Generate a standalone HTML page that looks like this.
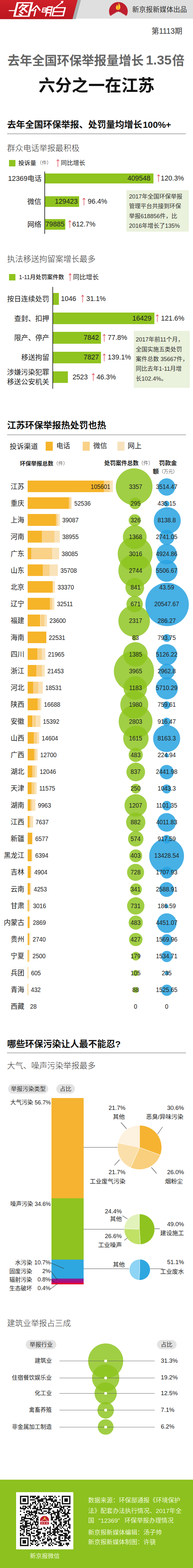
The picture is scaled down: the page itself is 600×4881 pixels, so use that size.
<!DOCTYPE html>
<html lang="zh"><head><meta charset="utf-8"><title>图个明白</title><style>
*{margin:0;padding:0;box-sizing:border-box}
html,body{width:600px;height:4881px;background:#fff;overflow-x:hidden}
body{font-family:"Liberation Sans",sans-serif;color:#222;position:relative}
#pg{position:relative;width:600px;height:4881px;overflow:hidden;background:#fff}
.a{position:absolute;white-space:nowrap;line-height:1}
.h2{position:absolute;left:22px;font-size:28px;font-weight:bold;color:#111;white-space:nowrap;line-height:1;letter-spacing:-0.3px}
.hr{position:absolute;left:22px;width:556px;height:3px;background:#bdbdbd}
.sub{position:absolute;left:22px;font-size:25px;font-weight:300;color:#444;white-space:nowrap;line-height:1}
.bar{position:absolute;background:#8fc31f}
.lbl{position:absolute;font-size:21.4px;color:#333;white-space:nowrap;line-height:1;text-align:right;font-weight:300}
.num{position:absolute;font-size:21.3px;color:#222;white-space:nowrap;line-height:1;transform:scaleY(1.06)}
.arr{color:#e0424a}
.note{position:absolute;background:#eaf1dc;font-size:18px;line-height:30.3px;color:#333;padding:6px 0 0 8px;white-space:nowrap}
.pv{position:absolute;font-size:21px;color:#333;white-space:nowrap;line-height:1;font-weight:300;text-align:right;width:70px;left:6px}
.bv{position:absolute;transform:scaleY(1.12);font-size:18.3px;color:#222;white-space:nowrap;line-height:1}
.cv{position:absolute;transform:scaleY(1.12);font-size:18.5px;color:#222;white-space:nowrap;line-height:1;text-align:center;width:120px}
.g{position:absolute;border-radius:50%;background:rgba(141,196,30,.83)}
.b{position:absolute;border-radius:50%;background:rgba(41,163,225,.86)}
.pill{position:absolute;background:#e3e3e3;border-radius:15px;font-size:18px;color:#333;text-align:center;white-space:nowrap;font-weight:300}
.pl{position:absolute;font-size:18.5px;color:#222;white-space:nowrap;line-height:1}
.ln{position:absolute;height:1px;background:#555}
.ft{position:absolute;left:274px;font-size:19.1px;color:#eef7d8;white-space:nowrap;line-height:1}

.t{position:absolute;overflow:visible;width:1px;height:1px}
.t text{font-family:"Liberation Sans","Noto Sans CJK SC",sans-serif;white-space:pre}
</style></head><body><div id="pg">
<svg class="a" style="left:0;top:0" width="600" height="60" viewBox="0 0 600 60">
<rect x="0" y="0" width="600" height="58" fill="#dfdfdf"/>
<polygon points="0,0 251.500,0 235.400,59.500 0,59.500" fill="#a9afaf"/>
<defs><linearGradient id="rg" x1="0" y1="0" x2="0" y2="1"><stop offset="0" stop-color="#cf2029"/><stop offset="1" stop-color="#bb161f"/></linearGradient>
<clipPath id="dome"><rect x="330" y="0" width="80" height="52"/></clipPath></defs>
<polygon points="0,0 241.200,0 225.300,59.500 0,59.500" fill="url(#rg)"/>
<path d="M343.400 50.500 A29 29 0 1 1 392.600 50.500 V47.900 H388.300 V45.300 H384.000 V42.700 H379.600 V40.100 H375.300 V37.500 H371.000 L368.000 35.500 L365.000 37.500 H360.700 V40.100 H356.400 V42.700 H352.000 V45.300 H347.700 V47.900 H343.400 V50.500 Z" fill="#be1e2d"/>
<path d="M367.500 7.500 C372.500 14 375.500 19.500 373.500 26 C372 31.500 363.500 32.500 361 27.500 C358.500 22.500 362.500 19 363.500 13.500 C365.500 16.500 366.500 18.500 366.500 21.500 C368.500 17.500 369 12.500 367.500 7.500 Z" fill="#fcc82c"/>
<path d="M367.500 20 C369.500 23 370 25.500 369 28 C368 30 365.500 30 364.800 28 C364.200 26 366 24.500 367.500 20 Z" fill="#f39a1e"/>
<g fill="none" stroke="#fff" stroke-linecap="butt" stroke-linejoin="miter" transform="matrix(1 0 -0.25 1 7.500 0)">
<path d="M49.500 7 V52 M94 7 V52" stroke-width="6.400"/><path d="M47 8.700 H97 M47 50.300 H97" stroke-width="3.800"/>
<path d="M28 33 H50 M95 33 H108" stroke-width="3"/>
<path d="M68 12 L58 27 M63 17.500 H83 L62 37 M67 23.500 L87 38.500 M66 37.500 L75 42 M62 43.500 L73 48.500" stroke-width="4.600"/>
<path d="M111.500 17 L98 34 M110.500 17 L126 33 M111 28 V51" stroke-width="4.200"/>
<g transform="translate(0.5,0)"><path d="M132 25 H142.500 V37.500 H132 Z M132 31 H142" stroke-width="3"/>
<path d="M146.500 51 V21.500 H160 V51 M146 30.500 H160 M146 39.500 H160" stroke-width="3.800"/>
<path d="M166.500 23 V50.500 M200.500 23 V50.500" stroke-width="4.600"/><path d="M165 24 H202 M165 49 H202 M166 36.500 H201" stroke-width="3.400"/>
<path d="M171 23 L186 8" stroke-width="3.400"/></g>
</g>
<path d="M197.500 2.500 L194.700 11.500 L188.300 3.800 Z" fill="#fff"/>
</svg>
<svg class="t" style="left:411.0px;top:37.0px;fill:#333"><text font-size="21.3">新京报新媒体出品</text></svg>
<svg class="t" style="left:470.5px;top:104.9px;fill:#333"><text font-size="23.5">第1113期</text></svg>
<svg class="t" style="left:22.5px;top:201.6px;fill:#666"><text font-size="38.5" font-weight="bold">去年全国环保举报量增长</text></svg>
<div class="a" style="left:453.5px;top:166.9px;font-size:41px;font-weight:bold;color:#666">1.35</div>
<svg class="t" style="left:535.3px;top:201.6px;fill:#666"><text font-size="38.5" font-weight="bold">倍</text></svg>
<svg class="t" style="left:119.8px;top:284.1px;fill:#111"><text font-size="51.5" font-weight="bold">六分之一在江苏</text></svg>
<svg class="t" style="left:22.0px;top:397.7px;fill:#111"><text font-size="28" font-weight="bold">去年全国环保举报、处罚量均增长</text></svg>
<svg class="t" style="left:443.5px;top:397.7px;fill:#111"><text font-size="28" font-weight="bold">100%+</text></svg>
<div class="hr" style="top:414.500px"></div>
<svg class="t" style="left:22.0px;top:470.2px;fill:#333"><text font-size="25" font-weight="300">群众电话举报最积极</text></svg>
<div class="bar" style="left:28px;top:498px;width:20px;height:20px"></div>
<svg class="t" style="left:57.0px;top:514.2px;fill:#333"><text font-size="18.5" font-weight="500">投诉量</text></svg>
<svg class="t" style="left:114.5px;top:512.2px;fill:#222"><text font-size="15" font-weight="300">（件）</text></svg>
<svg class="a" style="left:175px;top:496px" width="10" height="24" viewBox="0 0 10 24" fill="none" stroke="#dc3545" stroke-width="1.4"><path d="M5 23.500 V1 M1 5.500 L5 0.800 L9 5.500"/></svg>
<svg class="t" style="left:189.0px;top:514.1px;fill:#222"><text font-size="19">同比增长</text></svg>
<div class="a" style="left:138px;top:534px;width:2px;height:194px;background:#222"></div>
<svg class="t" style="left:24.9px;top:562.7px;fill:#222"><text font-size="21.8">12369电话</text></svg>
<div class="bar" style="left:140px;top:539.5px;width:337px;height:31.5px"></div>
<div class="num" style="left:0;width:467.5px;text-align:right;top:544.8px">409548</div>
<svg class="a" style="left:487.5px;top:543.25px" width="10" height="24" viewBox="0 0 10 24" fill="none" stroke="#dc3545" stroke-width="1.4"><path d="M5 23.500 V1 M1 5.500 L5 0.800 L9 5.500"/></svg>
<div class="num" style="left:499.8px;top:544.8px">120.3%</div>
<svg class="t" style="left:85.4px;top:635.2px;fill:#222"><text font-size="21.8">微信</text></svg>
<div class="bar" style="left:140px;top:611.4px;width:106.30000000000001px;height:32.6px"></div>
<div class="num" style="left:0;width:241.5px;text-align:right;top:617.2px">129423</div>
<svg class="a" style="left:256px;top:615.6999999999999px" width="10" height="24" viewBox="0 0 10 24" fill="none" stroke="#dc3545" stroke-width="1.4"><path d="M5 23.500 V1 M1 5.500 L5 0.800 L9 5.500"/></svg>
<div class="num" style="left:272.8px;top:617.2px">96.4%</div>
<svg class="t" style="left:85.4px;top:705.8px;fill:#222"><text font-size="21.8">网络</text></svg>
<div class="bar" style="left:140px;top:681.6px;width:63px;height:33.4px"></div>
<div class="num" style="left:0;width:200.5px;text-align:right;top:687.8px">79885</div>
<svg class="a" style="left:211.5px;top:686.3000000000001px" width="10" height="24" viewBox="0 0 10 24" fill="none" stroke="#dc3545" stroke-width="1.4"><path d="M5 23.500 V1 M1 5.500 L5 0.800 L9 5.500"/></svg>
<div class="num" style="left:224.4px;top:687.8px">612.7%</div>
<div class="note" style="left:392.5px;top:592px;width:194.5px;height:129px"></div>
<svg class="t" style="left:400.5px;top:617.9px;fill:#333"><text font-size="18">2017年全国环保举报</text></svg>
<svg class="t" style="left:400.5px;top:648.2px;fill:#333"><text font-size="18">管理平台共接到环保</text></svg>
<svg class="t" style="left:400.5px;top:678.5px;fill:#333"><text font-size="18">举报618856件，比</text></svg>
<svg class="t" style="left:400.5px;top:708.8px;fill:#333"><text font-size="18">2016年增长了135%</text></svg>
<svg class="t" style="left:22.0px;top:815.2px;fill:#333"><text font-size="25" font-weight="300">执法移送拘留案增长最多</text></svg>
<div class="bar" style="left:28px;top:853px;width:20px;height:20px"></div>
<svg class="t" style="left:59.0px;top:869.0px;fill:#222"><text font-size="17.7" font-weight="500">1-11月处罚案件数</text></svg>
<svg class="a" style="left:213px;top:851px" width="10" height="24" viewBox="0 0 10 24" fill="none" stroke="#dc3545" stroke-width="1.4"><path d="M5 23.500 V1 M1 5.500 L5 0.800 L9 5.500"/></svg>
<svg class="t" style="left:227.0px;top:869.9px;fill:#222"><text font-size="20">同比增长</text></svg>
<div class="a" style="left:163px;top:893px;width:2px;height:317px;background:#222"></div>
<svg class="t" style="left:22.2px;top:937.7px;fill:#222"><text font-size="21.8">按日连续处罚</text></svg>
<div class="bar" style="left:165px;top:911.5px;width:18px;height:37.5px"></div>
<div class="num" style="left:189.5px;top:919.8px">1046</div>
<svg class="a" style="left:251.7px;top:918.25px" width="10" height="24" viewBox="0 0 10 24" fill="none" stroke="#dc3545" stroke-width="1.4"><path d="M5 23.500 V1 M1 5.500 L5 0.800 L9 5.500"/></svg>
<div class="num" style="left:268.3px;top:919.8px">31.1%</div>
<svg class="t" style="left:44.0px;top:998.5px;fill:#222"><text font-size="21.8">查封、扣押</text></svg>
<div class="bar" style="left:165px;top:972.7px;width:314.5px;height:36.6px"></div>
<div class="num" style="left:0;width:470.8px;text-align:right;top:980.5px">16429</div>
<svg class="a" style="left:484px;top:979.0px" width="10" height="24" viewBox="0 0 10 24" fill="none" stroke="#dc3545" stroke-width="1.4"><path d="M5 23.500 V1 M1 5.500 L5 0.800 L9 5.500"/></svg>
<div class="num" style="left:500.6px;top:980.5px">121.6%</div>
<svg class="t" style="left:44.0px;top:1059.4px;fill:#222"><text font-size="21.8">限产、停产</text></svg>
<div class="bar" style="left:165px;top:1033.3px;width:148.5px;height:37.2px"></div>
<div class="num" style="left:0;width:307.5px;text-align:right;top:1041.4px">7842</div>
<svg class="a" style="left:319px;top:1039.8999999999999px" width="10" height="24" viewBox="0 0 10 24" fill="none" stroke="#dc3545" stroke-width="1.4"><path d="M5 23.500 V1 M1 5.500 L5 0.800 L9 5.500"/></svg>
<div class="num" style="left:335px;top:1041.4px">77.8%</div>
<svg class="t" style="left:65.8px;top:1120.2px;fill:#222"><text font-size="21.8">移送拘留</text></svg>
<div class="bar" style="left:165px;top:1094.5px;width:148.5px;height:36.5px"></div>
<div class="num" style="left:0;width:307.5px;text-align:right;top:1102.2px">7827</div>
<svg class="a" style="left:319px;top:1100.75px" width="10" height="24" viewBox="0 0 10 24" fill="none" stroke="#dc3545" stroke-width="1.4"><path d="M5 23.500 V1 M1 5.500 L5 0.800 L9 5.500"/></svg>
<div class="num" style="left:335px;top:1102.2px">139.1%</div>
<svg class="t" style="left:22.2px;top:1166.3px;fill:#222"><text font-size="21.8">涉嫌污染犯罪</text></svg>
<svg class="t" style="left:22.2px;top:1195.8px;fill:#222"><text font-size="21.8">移送公安机关</text></svg>
<div class="bar" style="left:165px;top:1155.7px;width:46.30000000000001px;height:36.6px"></div>
<div class="num" style="left:225.4px;top:1163.5px">2523</div>
<svg class="a" style="left:284.5px;top:1162.0px" width="10" height="24" viewBox="0 0 10 24" fill="none" stroke="#dc3545" stroke-width="1.4"><path d="M5 23.500 V1 M1 5.500 L5 0.800 L9 5.500"/></svg>
<div class="num" style="left:300px;top:1163.5px">46.3%</div>
<div class="note" style="left:416px;top:1030px;width:173.500px;height:177px"></div>
<svg class="t" style="left:422.0px;top:1063.4px;fill:#333"><text font-size="18">2017年前11个月，</text></svg>
<svg class="t" style="left:422.0px;top:1093.7px;fill:#333"><text font-size="18">全国实施五类处罚</text></svg>
<svg class="t" style="left:422.0px;top:1124.0px;fill:#333"><text font-size="18">案件总数 35667件，</text></svg>
<svg class="t" style="left:422.0px;top:1154.3px;fill:#333"><text font-size="18">同比去年1-11月增</text></svg>
<svg class="t" style="left:422.0px;top:1184.6px;fill:#333"><text font-size="18">长102.4%。</text></svg>
<svg class="t" style="left:22.0px;top:1333.7px;fill:#111"><text font-size="28" font-weight="bold">江苏环保举报热处罚也热</text></svg>
<div class="hr" style="top:1352px"></div>
<svg class="t" style="left:30.0px;top:1396.6px;fill:#222"><text font-size="22">投诉渠道</text></svg>
<div class="a" style="left:142px;top:1375px;width:22px;height:28px;background:#f6b429"></div>
<svg class="t" style="left:174.5px;top:1395.2px;fill:#222"><text font-size="21.5">电话</text></svg>
<div class="a" style="left:257px;top:1375px;width:22px;height:28px;background:#f9d187"></div>
<svg class="t" style="left:289.5px;top:1395.2px;fill:#222"><text font-size="21.5">微信</text></svg>
<div class="a" style="left:364.5px;top:1375px;width:22px;height:28px;background:#f7e2bd"></div>
<svg class="t" style="left:397.0px;top:1395.2px;fill:#222"><text font-size="21.5">网上</text></svg>
<svg class="t" style="left:62.0px;top:1448.6px;fill:#222"><text font-size="17.3" font-weight="bold">环保举报总数</text></svg>
<svg class="t" style="left:165.8px;top:1447.7px;fill:#222"><text font-size="15" font-weight="300">（件）</text></svg>
<svg class="t" style="left:323.5px;top:1448.1px;fill:#222"><text font-size="17.8" font-weight="bold">处罚案件总数</text></svg>
<svg class="t" style="left:430.3px;top:1447.1px;fill:#222"><text font-size="15.5" font-weight="300">（件）</text></svg>
<svg class="t" style="left:494.0px;top:1447.8px;fill:#222"><text font-size="18.7" font-weight="bold">罚款金</text></svg>
<svg class="t" style="left:475.0px;top:1473.8px;fill:#222"><text font-size="18.7" font-weight="bold">额</text></svg>
<svg class="t" style="left:493.7px;top:1472.8px;fill:#222"><text font-size="14.5" font-weight="300">（万元）</text></svg>
<svg class="t" style="left:33.4px;top:1521.7px;fill:#222"><text font-size="21.3">江苏</text></svg>
<svg class="t" style="left:33.4px;top:1573.9px;fill:#222"><text font-size="21.3">重庆</text></svg>
<svg class="t" style="left:33.4px;top:1626.1px;fill:#222"><text font-size="21.3">上海</text></svg>
<svg class="t" style="left:33.4px;top:1678.3px;fill:#222"><text font-size="21.3">河南</text></svg>
<svg class="t" style="left:33.4px;top:1730.5px;fill:#222"><text font-size="21.3">广东</text></svg>
<svg class="t" style="left:33.4px;top:1782.7px;fill:#222"><text font-size="21.3">山东</text></svg>
<svg class="t" style="left:33.4px;top:1834.9px;fill:#222"><text font-size="21.3">北京</text></svg>
<svg class="t" style="left:33.4px;top:1887.1px;fill:#222"><text font-size="21.3">辽宁</text></svg>
<svg class="t" style="left:33.4px;top:1939.3px;fill:#222"><text font-size="21.3">福建</text></svg>
<svg class="t" style="left:33.4px;top:1991.5px;fill:#222"><text font-size="21.3">海南</text></svg>
<svg class="t" style="left:33.4px;top:2043.7px;fill:#222"><text font-size="21.3">四川</text></svg>
<svg class="t" style="left:33.4px;top:2095.9px;fill:#222"><text font-size="21.3">浙江</text></svg>
<svg class="t" style="left:33.4px;top:2148.1px;fill:#222"><text font-size="21.3">河北</text></svg>
<svg class="t" style="left:33.4px;top:2200.3px;fill:#222"><text font-size="21.3">陕西</text></svg>
<svg class="t" style="left:33.4px;top:2252.5px;fill:#222"><text font-size="21.3">安徽</text></svg>
<svg class="t" style="left:33.4px;top:2304.7px;fill:#222"><text font-size="21.3">山西</text></svg>
<svg class="t" style="left:33.4px;top:2356.9px;fill:#222"><text font-size="21.3">广西</text></svg>
<svg class="t" style="left:33.4px;top:2409.1px;fill:#222"><text font-size="21.3">湖北</text></svg>
<svg class="t" style="left:33.4px;top:2461.3px;fill:#222"><text font-size="21.3">天津</text></svg>
<svg class="t" style="left:33.4px;top:2513.5px;fill:#222"><text font-size="21.3">湖南</text></svg>
<svg class="t" style="left:33.4px;top:2565.7px;fill:#222"><text font-size="21.3">江西</text></svg>
<svg class="t" style="left:33.4px;top:2617.9px;fill:#222"><text font-size="21.3">新疆</text></svg>
<svg class="t" style="left:12.1px;top:2670.1px;fill:#222"><text font-size="21.3">黑龙江</text></svg>
<svg class="t" style="left:33.4px;top:2722.3px;fill:#222"><text font-size="21.3">吉林</text></svg>
<svg class="t" style="left:33.4px;top:2774.5px;fill:#222"><text font-size="21.3">云南</text></svg>
<svg class="t" style="left:33.4px;top:2826.7px;fill:#222"><text font-size="21.3">甘肃</text></svg>
<svg class="t" style="left:12.1px;top:2878.9px;fill:#222"><text font-size="21.3">内蒙古</text></svg>
<svg class="t" style="left:33.4px;top:2931.1px;fill:#222"><text font-size="21.3">贵州</text></svg>
<svg class="t" style="left:33.4px;top:2983.3px;fill:#222"><text font-size="21.3">宁夏</text></svg>
<svg class="t" style="left:33.4px;top:3035.5px;fill:#222"><text font-size="21.3">兵团</text></svg>
<svg class="t" style="left:33.4px;top:3087.7px;fill:#222"><text font-size="21.3">青海</text></svg>
<svg class="t" style="left:33.4px;top:3139.9px;fill:#222"><text font-size="21.3">西藏</text></svg>
<div class="a" style="left:86.3px;top:1495.7px;width:236.7px;height:36.5px;background:#f6b429"></div>
<div class="a" style="left:323.0px;top:1495.7px;width:18.0px;height:36.5px;background:#f9d187"></div>
<div class="a" style="left:341.0px;top:1495.7px;width:9.5px;height:36.5px;background:#f9e3ba"></div>
<div class="g" style="left:360.4px;top:1458.4px;width:113.6px;height:113.6px"></div>
<div class="b" style="left:491.2px;top:1489.2px;width:53.9px;height:53.9px"></div>
<div class="a" style="left:86.3px;top:1547.9px;width:127.7px;height:36.5px;background:#f6b429"></div>
<div class="a" style="left:214.0px;top:1547.9px;width:5.0px;height:36.5px;background:#f9d187"></div>
<div class="a" style="left:219.0px;top:1547.9px;width:4.0px;height:36.5px;background:#f9e3ba"></div>
<div class="g" style="left:401.5px;top:1549.4px;width:36.0px;height:36.0px"></div>
<div class="b" style="left:509.2px;top:1559.4px;width:18.1px;height:18.1px"></div>
<div class="a" style="left:86.3px;top:1600.1px;width:87.7px;height:36.5px;background:#f6b429"></div>
<div class="a" style="left:174.0px;top:1600.1px;width:4.5px;height:36.5px;background:#f9d187"></div>
<div class="a" style="left:178.5px;top:1600.1px;width:7.0px;height:36.5px;background:#f9e3ba"></div>
<div class="g" style="left:399.8px;top:1600.7px;width:37.8px;height:37.8px"></div>
<div class="b" style="left:478.0px;top:1578.8px;width:83.6px;height:83.6px"></div>
<div class="a" style="left:86.3px;top:1652.3px;width:43.7px;height:36.5px;background:#f6b429"></div>
<div class="a" style="left:130.0px;top:1652.3px;width:39.0px;height:36.5px;background:#f9d187"></div>
<div class="a" style="left:169.0px;top:1652.3px;width:16.5px;height:36.5px;background:#f9e3ba"></div>
<div class="g" style="left:381.5px;top:1634.8px;width:74.0px;height:74.0px"></div>
<div class="b" style="left:494.5px;top:1649.1px;width:47.3px;height:47.3px"></div>
<div class="a" style="left:86.3px;top:1704.5px;width:10.7px;height:36.5px;background:#f6b429"></div>
<div class="a" style="left:97.0px;top:1704.5px;width:64.5px;height:36.5px;background:#f9d187"></div>
<div class="a" style="left:161.5px;top:1704.5px;width:22.0px;height:36.5px;background:#f9e3ba"></div>
<div class="g" style="left:365.6px;top:1670.0px;width:108.0px;height:108.0px"></div>
<div class="b" style="left:486.0px;top:1692.8px;width:64.3px;height:64.3px"></div>
<div class="a" style="left:86.3px;top:1756.7px;width:46.7px;height:36.5px;background:#f6b429"></div>
<div class="a" style="left:133.0px;top:1756.7px;width:21.0px;height:36.5px;background:#f9d187"></div>
<div class="a" style="left:154.0px;top:1756.7px;width:26.0px;height:36.5px;background:#f9e3ba"></div>
<div class="g" style="left:368.3px;top:1724.5px;width:103.4px;height:103.4px"></div>
<div class="b" style="left:484.1px;top:1743.1px;width:68.2px;height:68.2px"></div>
<div class="a" style="left:86.3px;top:1808.9px;width:77.1px;height:36.5px;background:#f6b429"></div>
<div class="a" style="left:163.4px;top:1808.9px;width:3.1px;height:36.5px;background:#f9d187"></div>
<div class="a" style="left:166.5px;top:1808.9px;width:4.5px;height:36.5px;background:#f9e3ba"></div>
<div class="g" style="left:389.5px;top:1799.2px;width:58.4px;height:58.4px"></div>
<div class="b" style="left:515.5px;top:1826.7px;width:5.4px;height:5.4px"></div>
<div class="a" style="left:86.3px;top:1861.1px;width:68.7px;height:36.5px;background:#f6b429"></div>
<div class="a" style="left:155.0px;top:1861.1px;width:6.5px;height:36.5px;background:#f9d187"></div>
<div class="a" style="left:161.5px;top:1861.1px;width:7.5px;height:36.5px;background:#f9e3ba"></div>
<div class="g" style="left:393.3px;top:1855.2px;width:50.8px;height:50.8px"></div>
<div class="b" style="left:451.7px;top:1813.8px;width:135.6px;height:135.6px"></div>
<div class="a" style="left:86.3px;top:1913.3px;width:39.2px;height:36.5px;background:#f6b429"></div>
<div class="a" style="left:125.5px;top:1913.3px;width:12.0px;height:36.5px;background:#f9d187"></div>
<div class="a" style="left:137.5px;top:1913.3px;width:8.2px;height:36.5px;background:#f9e3ba"></div>
<div class="g" style="left:368.3px;top:1883.9px;width:97.8px;height:97.8px"></div>
<div class="b" style="left:510.9px;top:1926.5px;width:14.5px;height:14.5px"></div>
<div class="a" style="left:86.3px;top:1965.5px;width:57.5px;height:36.5px;background:#f6b429"></div>
<div class="g" style="left:410.4px;top:1976.5px;width:17.0px;height:17.0px"></div>
<div class="b" style="left:505.8px;top:1973.6px;width:24.8px;height:24.8px"></div>
<div class="a" style="left:86.3px;top:2017.7px;width:29.7px;height:36.5px;background:#f6b429"></div>
<div class="a" style="left:116.0px;top:2017.7px;width:14.0px;height:36.5px;background:#f9d187"></div>
<div class="a" style="left:130.0px;top:2017.7px;width:11.3px;height:36.5px;background:#f9e3ba"></div>
<div class="g" style="left:382.9px;top:1999.3px;width:75.8px;height:75.8px"></div>
<div class="b" style="left:485.4px;top:2005.4px;width:65.7px;height:65.7px"></div>
<div class="a" style="left:86.3px;top:2069.9px;width:26.7px;height:36.5px;background:#f6b429"></div>
<div class="a" style="left:113.0px;top:2069.9px;width:17.0px;height:36.5px;background:#f9d187"></div>
<div class="a" style="left:130.0px;top:2069.9px;width:9.4px;height:36.5px;background:#f9e3ba"></div>
<div class="g" style="left:354.1px;top:2027.0px;width:124.8px;height:124.8px"></div>
<div class="b" style="left:493.5px;top:2065.7px;width:49.3px;height:49.3px"></div>
<div class="a" style="left:86.3px;top:2122.1px;width:16.5px;height:36.5px;background:#f6b429"></div>
<div class="a" style="left:102.8px;top:2122.1px;width:16.2px;height:36.5px;background:#f9d187"></div>
<div class="a" style="left:119.0px;top:2122.1px;width:14.0px;height:36.5px;background:#f9e3ba"></div>
<div class="g" style="left:384.4px;top:2105.2px;width:72.8px;height:72.8px"></div>
<div class="b" style="left:483.5px;top:2107.9px;width:69.5px;height:69.5px"></div>
<div class="a" style="left:86.3px;top:2174.3px;width:30.7px;height:36.5px;background:#f6b429"></div>
<div class="a" style="left:117.0px;top:2174.3px;width:6.6px;height:36.5px;background:#f9d187"></div>
<div class="a" style="left:123.6px;top:2174.3px;width:5.1px;height:36.5px;background:#f9e3ba"></div>
<div class="g" style="left:374.4px;top:2150.4px;width:86.8px;height:86.8px"></div>
<div class="b" style="left:506.1px;top:2182.7px;width:24.2px;height:24.2px"></div>
<div class="a" style="left:86.3px;top:2226.5px;width:15.2px;height:36.5px;background:#f6b429"></div>
<div class="a" style="left:101.5px;top:2226.5px;width:9.5px;height:36.5px;background:#f9d187"></div>
<div class="a" style="left:111.0px;top:2226.5px;width:14.5px;height:36.5px;background:#f9e3ba"></div>
<div class="g" style="left:369.2px;top:2193.7px;width:104.6px;height:104.6px"></div>
<div class="b" style="left:504.8px;top:2233.6px;width:26.7px;height:26.7px"></div>
<div class="a" style="left:86.3px;top:2278.7px;width:18.4px;height:36.5px;background:#f6b429"></div>
<div class="a" style="left:104.7px;top:2278.7px;width:10.3px;height:36.5px;background:#f9d187"></div>
<div class="a" style="left:115.0px;top:2278.7px;width:6.7px;height:36.5px;background:#f9e3ba"></div>
<div class="g" style="left:383.0px;top:2258.6px;width:79.2px;height:79.2px"></div>
<div class="b" style="left:476.3px;top:2257.3px;width:83.7px;height:83.7px"></div>
<div class="a" style="left:86.3px;top:2330.9px;width:19.7px;height:36.5px;background:#f6b429"></div>
<div class="a" style="left:106.0px;top:2330.9px;width:5.0px;height:36.5px;background:#f9d187"></div>
<div class="a" style="left:111.0px;top:2330.9px;width:6.0px;height:36.5px;background:#f9e3ba"></div>
<div class="g" style="left:400.0px;top:2328.4px;width:44.0px;height:44.0px"></div>
<div class="b" style="left:511.8px;top:2345.0px;width:12.8px;height:12.8px"></div>
<div class="a" style="left:86.3px;top:2383.1px;width:13.7px;height:36.5px;background:#f6b429"></div>
<div class="a" style="left:100.0px;top:2383.1px;width:8.0px;height:36.5px;background:#f9d187"></div>
<div class="a" style="left:108.0px;top:2383.1px;width:7.4px;height:36.5px;background:#f9e3ba"></div>
<div class="g" style="left:393.0px;top:2373.6px;width:58.0px;height:58.0px"></div>
<div class="b" style="left:495.9px;top:2381.3px;width:44.6px;height:44.6px"></div>
<div class="a" style="left:86.3px;top:2435.3px;width:12.1px;height:36.5px;background:#f6b429"></div>
<div class="a" style="left:98.4px;top:2435.3px;width:8.2px;height:36.5px;background:#f9d187"></div>
<div class="a" style="left:106.6px;top:2435.3px;width:7.4px;height:36.5px;background:#f9e3ba"></div>
<div class="g" style="left:407.1px;top:2439.6px;width:30.4px;height:30.4px"></div>
<div class="b" style="left:503.9px;top:2441.5px;width:28.6px;height:28.6px"></div>
<div class="a" style="left:86.3px;top:2487.5px;width:8.7px;height:36.5px;background:#f6b429"></div>
<div class="a" style="left:95.0px;top:2487.5px;width:5.0px;height:36.5px;background:#f9d187"></div>
<div class="a" style="left:100.0px;top:2487.5px;width:10.0px;height:36.5px;background:#f9e3ba"></div>
<div class="g" style="left:387.0px;top:2472.0px;width:70.0px;height:70.0px"></div>
<div class="b" style="left:503.5px;top:2493.3px;width:29.4px;height:29.4px"></div>
<div class="a" style="left:86.3px;top:2539.7px;width:4.7px;height:36.5px;background:#f6b429"></div>
<div class="a" style="left:91.0px;top:2539.7px;width:4.0px;height:36.5px;background:#f9d187"></div>
<div class="a" style="left:95.0px;top:2539.7px;width:7.5px;height:36.5px;background:#f9e3ba"></div>
<div class="g" style="left:392.3px;top:2529.5px;width:59.4px;height:59.4px"></div>
<div class="b" style="left:489.3px;top:2531.3px;width:57.8px;height:57.8px"></div>
<div class="a" style="left:86.3px;top:2591.9px;width:13.3px;height:36.5px;background:#f6b429"></div>
<div class="a" style="left:99.6px;top:2591.9px;width:1.9px;height:36.5px;background:#f9e3ba"></div>
<div class="g" style="left:398.0px;top:2587.4px;width:47.9px;height:47.9px"></div>
<div class="b" style="left:504.8px;top:2599.0px;width:26.7px;height:26.7px"></div>
<div class="a" style="left:86.3px;top:2644.1px;width:12.1px;height:36.5px;background:#f6b429"></div>
<div class="a" style="left:98.4px;top:2644.1px;width:3.1px;height:36.5px;background:#f9e3ba"></div>
<div class="g" style="left:401.9px;top:2643.5px;width:40.1px;height:40.1px"></div>
<div class="b" style="left:463.9px;top:2610.3px;width:108.6px;height:108.6px"></div>
<div class="a" style="left:86.3px;top:2696.3px;width:8.7px;height:36.5px;background:#f6b429"></div>
<div class="a" style="left:95.0px;top:2696.3px;width:3.4px;height:36.5px;background:#f9e3ba"></div>
<div class="g" style="left:394.9px;top:2689.3px;width:53.0px;height:53.0px"></div>
<div class="b" style="left:499.7px;top:2698.3px;width:37.0px;height:37.0px"></div>
<div class="a" style="left:86.3px;top:2748.5px;width:6.7px;height:36.5px;background:#f6b429"></div>
<div class="a" style="left:93.0px;top:2748.5px;width:4.0px;height:36.5px;background:#f9e3ba"></div>
<div class="g" style="left:403.5px;top:2749.5px;width:37.0px;height:37.0px"></div>
<div class="b" style="left:495.2px;top:2746.0px;width:46.0px;height:46.0px"></div>
<div class="a" style="left:86.3px;top:2800.7px;width:3.0px;height:36.5px;background:#f6b429"></div>
<div class="a" style="left:89.3px;top:2800.7px;width:5.2px;height:36.5px;background:#f9e3ba"></div>
<div class="g" style="left:395.0px;top:2793.2px;width:54.1px;height:54.1px"></div>
<div class="b" style="left:512.4px;top:2815.4px;width:11.6px;height:11.6px"></div>
<div class="a" style="left:86.3px;top:2852.9px;width:4.5px;height:36.5px;background:#f6b429"></div>
<div class="a" style="left:90.8px;top:2852.9px;width:3.2px;height:36.5px;background:#f9e3ba"></div>
<div class="g" style="left:400.0px;top:2850.4px;width:44.0px;height:44.0px"></div>
<div class="b" style="left:487.7px;top:2842.9px;width:61.0px;height:61.0px"></div>
<div class="a" style="left:86.3px;top:2905.1px;width:3.7px;height:36.5px;background:#f6b429"></div>
<div class="a" style="left:90.0px;top:2905.1px;width:3.5px;height:36.5px;background:#f9e3ba"></div>
<div class="g" style="left:401.3px;top:2903.9px;width:41.3px;height:41.3px"></div>
<div class="b" style="left:500.5px;top:2907.9px;width:35.4px;height:35.4px"></div>
<div class="a" style="left:86.3px;top:2957.3px;width:3.2px;height:36.5px;background:#f6b429"></div>
<div class="a" style="left:89.5px;top:2957.3px;width:3.5px;height:36.5px;background:#f9e3ba"></div>
<div class="g" style="left:408.6px;top:2963.4px;width:26.8px;height:26.8px"></div>
<div class="b" style="left:500.7px;top:2960.3px;width:35.0px;height:35.0px"></div>
<div class="a" style="left:86.3px;top:3009.5px;width:1.2px;height:36.5px;background:#f6b429"></div>
<div class="a" style="left:87.5px;top:3009.5px;width:1.0px;height:36.5px;background:#f9e3ba"></div>
<div class="g" style="left:411.8px;top:3018.8px;width:20.5px;height:20.5px"></div>
<div class="b" style="left:511.6px;top:3023.4px;width:13.1px;height:13.1px"></div>
<div class="a" style="left:86.3px;top:3061.7px;width:0.7px;height:36.5px;background:#f6b429"></div>
<div class="a" style="left:87.0px;top:3061.7px;width:1.0px;height:36.5px;background:#f9e3ba"></div>
<div class="g" style="left:412.6px;top:3071.8px;width:18.8px;height:18.8px"></div>
<div class="b" style="left:500.8px;top:3064.8px;width:34.9px;height:34.9px"></div>
<div class="bv" style="left:0;width:343px;text-align:right;top:1505.7px">105601</div>
<div class="cv" style="left:361.5px;top:1505.7px">3357</div>
<div class="cv" style="left:458.2px;top:1505.7px">3514.47</div>
<div class="bv" style="left:231.0px;top:1557.9px">52536</div>
<div class="cv" style="left:361.5px;top:1557.9px">295</div>
<div class="cv" style="left:458.2px;top:1557.9px">435.15</div>
<div class="bv" style="left:193.5px;top:1610.1px">39087</div>
<div class="cv" style="left:361.5px;top:1610.1px">326</div>
<div class="cv" style="left:458.2px;top:1610.1px">8138.8</div>
<div class="bv" style="left:193.5px;top:1662.3px">38955</div>
<div class="cv" style="left:361.5px;top:1662.3px">1368</div>
<div class="cv" style="left:458.2px;top:1662.3px">2741.05</div>
<div class="bv" style="left:191.5px;top:1714.5px">38085</div>
<div class="cv" style="left:361.5px;top:1714.5px">3016</div>
<div class="cv" style="left:458.2px;top:1714.5px">4924.86</div>
<div class="bv" style="left:188.0px;top:1766.7px">35708</div>
<div class="cv" style="left:361.5px;top:1766.7px">2744</div>
<div class="cv" style="left:458.2px;top:1766.7px">5506.67</div>
<div class="bv" style="left:179.0px;top:1818.9px">33370</div>
<div class="cv" style="left:361.5px;top:1818.9px">841</div>
<div class="cv" style="left:458.2px;top:1818.9px">43.59</div>
<div class="bv" style="left:177.0px;top:1871.1px">32511</div>
<div class="cv" style="left:361.5px;top:1871.1px">671</div>
<div class="cv" style="left:458.2px;top:1871.1px">20547.67</div>
<div class="bv" style="left:153.7px;top:1923.3px">23600</div>
<div class="cv" style="left:361.5px;top:1923.3px">2317</div>
<div class="cv" style="left:458.2px;top:1923.3px">286.27</div>
<div class="bv" style="left:151.8px;top:1975.5px">22531</div>
<div class="cv" style="left:361.5px;top:1975.5px">83</div>
<div class="cv" style="left:458.2px;top:1975.5px">793.75</div>
<div class="bv" style="left:149.3px;top:2027.7px">21965</div>
<div class="cv" style="left:361.5px;top:2027.7px">1385</div>
<div class="cv" style="left:458.2px;top:2027.7px">5126.22</div>
<div class="bv" style="left:147.4px;top:2079.9px">21453</div>
<div class="cv" style="left:361.5px;top:2079.9px">3965</div>
<div class="cv" style="left:458.2px;top:2079.9px">2962.8</div>
<div class="bv" style="left:141.0px;top:2132.1px">18531</div>
<div class="cv" style="left:361.5px;top:2132.1px">1183</div>
<div class="cv" style="left:458.2px;top:2132.1px">5710.29</div>
<div class="bv" style="left:136.7px;top:2184.3px">16688</div>
<div class="cv" style="left:361.5px;top:2184.3px">1980</div>
<div class="cv" style="left:458.2px;top:2184.3px">759.61</div>
<div class="bv" style="left:133.5px;top:2236.5px">15392</div>
<div class="cv" style="left:361.5px;top:2236.5px">2803</div>
<div class="cv" style="left:458.2px;top:2236.5px">916.47</div>
<div class="bv" style="left:129.7px;top:2288.7px">14604</div>
<div class="cv" style="left:361.5px;top:2288.7px">1615</div>
<div class="cv" style="left:458.2px;top:2288.7px">8163.3</div>
<div class="bv" style="left:125.0px;top:2340.9px">12700</div>
<div class="cv" style="left:361.5px;top:2340.9px">483</div>
<div class="cv" style="left:458.2px;top:2340.9px">224.94</div>
<div class="bv" style="left:123.4px;top:2393.1px">12046</div>
<div class="cv" style="left:361.5px;top:2393.1px">837</div>
<div class="cv" style="left:458.2px;top:2393.1px">2441.98</div>
<div class="bv" style="left:122.0px;top:2445.3px">11575</div>
<div class="cv" style="left:361.5px;top:2445.3px">250</div>
<div class="cv" style="left:458.2px;top:2445.3px">1043.3</div>
<div class="bv" style="left:118.0px;top:2497.5px">9963</div>
<div class="cv" style="left:361.5px;top:2497.5px">1207</div>
<div class="cv" style="left:458.2px;top:2497.5px">1101.35</div>
<div class="bv" style="left:110.5px;top:2549.7px">7637</div>
<div class="cv" style="left:361.5px;top:2549.7px">882</div>
<div class="cv" style="left:458.2px;top:2549.7px">4011.83</div>
<div class="bv" style="left:109.5px;top:2601.9px">6577</div>
<div class="cv" style="left:361.5px;top:2601.9px">574</div>
<div class="cv" style="left:458.2px;top:2601.9px">917.59</div>
<div class="bv" style="left:109.5px;top:2654.1px">6394</div>
<div class="cv" style="left:361.5px;top:2654.1px">403</div>
<div class="cv" style="left:458.2px;top:2654.1px">13428.54</div>
<div class="bv" style="left:106.4px;top:2706.3px">4904</div>
<div class="cv" style="left:361.5px;top:2706.3px">728</div>
<div class="cv" style="left:458.2px;top:2706.3px">1707.93</div>
<div class="bv" style="left:105.0px;top:2758.5px">4253</div>
<div class="cv" style="left:361.5px;top:2758.5px">341</div>
<div class="cv" style="left:458.2px;top:2758.5px">2588.91</div>
<div class="bv" style="left:102.5px;top:2810.7px">3016</div>
<div class="cv" style="left:361.5px;top:2810.7px">731</div>
<div class="cv" style="left:458.2px;top:2810.7px">186.59</div>
<div class="bv" style="left:102.0px;top:2862.9px">2869</div>
<div class="cv" style="left:361.5px;top:2862.9px">483</div>
<div class="cv" style="left:458.2px;top:2862.9px">4451.07</div>
<div class="bv" style="left:101.5px;top:2915.1px">2740</div>
<div class="cv" style="left:361.5px;top:2915.1px">427</div>
<div class="cv" style="left:458.2px;top:2915.1px">1569.96</div>
<div class="bv" style="left:101.0px;top:2967.3px">2500</div>
<div class="cv" style="left:361.5px;top:2967.3px">179</div>
<div class="cv" style="left:458.2px;top:2967.3px">1534.71</div>
<div class="bv" style="left:96.5px;top:3019.5px">605</div>
<div class="cv" style="left:361.5px;top:3019.5px">105</div>
<div class="cv" style="left:458.2px;top:3019.5px">235</div>
<div class="bv" style="left:96.0px;top:3071.7px">432</div>
<div class="cv" style="left:361.5px;top:3071.7px">88</div>
<div class="cv" style="left:458.2px;top:3071.7px">1525.65</div>
<div class="bv" style="left:93.5px;top:3123.9px">28</div>
<div class="cv" style="left:361.5px;top:3123.9px">0</div>
<div class="cv" style="left:458.2px;top:3123.9px">0</div>
<svg class="t" style="left:22.0px;top:3259.7px;fill:#111"><text font-size="28" font-weight="bold">哪些环保污染让人最不能忍?</text></svg>
<div class="hr" style="top:3276px"></div>
<svg class="t" style="left:22.0px;top:3326.2px;fill:#333"><text font-size="25" font-weight="300">大气、噪声污染举报最多</text></svg>
<div class="pill" style="left:25px;top:3375px;width:125px;height:29px"></div>
<svg class="t" style="left:33.5px;top:3395.7px;fill:#333"><text font-size="18">举报污染类型</text></svg>
<div class="pill" style="left:175px;top:3375px;width:58px;height:29px"></div>
<svg class="t" style="left:186.0px;top:3395.7px;fill:#333"><text font-size="18">占比</text></svg>
<div class="a" style="left:160px;top:3418px;width:100px;height:312px;background:#f5b331"></div>
<div class="a" style="left:160px;top:3730px;width:100px;height:191px;background:#8fc31f"></div>
<div class="a" style="left:160px;top:3921px;width:100px;height:59.5px;background:#2ea7e0"></div>
<div class="a" style="left:160px;top:3993px;width:100px;height:5px;background:#e60027"></div>
<div class="a" style="left:160px;top:3980px;width:100px;height:13.5px;background:linear-gradient(#7a2a9a,#c2006f)"></div>
<svg class="t" style="left:31.5px;top:3438.0px;fill:#222"><text font-size="17.7">大气污染 56.7%</text></svg>
<svg class="t" style="left:31.5px;top:3754.0px;fill:#222"><text font-size="17.7">噪声污染 34.6%</text></svg>
<svg class="t" style="left:46.9px;top:3937.0px;fill:#222"><text font-size="17.7">水污染</text></svg>
<div class="pl" style="left:100px;width:57px;text-align:right;top:3922px;font-weight:300;font-size:17.7px">10.7%</div>
<svg class="t" style="left:29.2px;top:3963.5px;fill:#222"><text font-size="17.7">固废污染</text></svg>
<div class="pl" style="left:100px;width:57px;text-align:right;top:3948.5px;font-weight:300;font-size:17.7px">2%</div>
<svg class="t" style="left:29.2px;top:3990.0px;fill:#222"><text font-size="17.7">辐射污染</text></svg>
<div class="pl" style="left:100px;width:57px;text-align:right;top:3975px;font-weight:300;font-size:17.7px">0.8%</div>
<svg class="t" style="left:29.2px;top:4017.0px;fill:#222"><text font-size="17.7">生态破坏</text></svg>
<div class="pl" style="left:100px;width:57px;text-align:right;top:4002px;font-weight:300;font-size:17.7px">0.4%</div>
<svg class="a" style="left:363.2px;top:3500.7px" width="141.6" height="141.6" viewBox="363.2 3500.7 141.6 141.6"><path d="M434 3571.5 L434.00 3502.70 A68.8 68.8 0 0 1 498.58 3595.21 Z" fill="#f5b331" stroke="#fff" stroke-width="1"/><path d="M434 3571.5 L498.58 3595.21 A68.8 68.8 0 0 1 406.28 3634.47 Z" fill="#f9cf7d" stroke="#fff" stroke-width="1"/><path d="M434 3571.5 L406.28 3634.47 A68.8 68.8 0 0 1 366.67 3557.34 Z" fill="#fbdfaa" stroke="#fff" stroke-width="1"/><path d="M434 3571.5 L366.67 3557.34 A68.8 68.8 0 0 1 434.00 3502.70 Z" fill="#fdf1df" stroke="#fff" stroke-width="1"/></svg>
<svg class="a" style="left:384.0px;top:3777.0px" width="99.0" height="99.0" viewBox="384.0 3777.0 99.0 99.0"><path d="M433.5 3826.5 L433.50 3779.00 A47.5 47.5 0 0 1 436.48 3873.91 Z" fill="#8fc31f" stroke="#fff" stroke-width="1"/><path d="M433.5 3826.5 L436.48 3873.91 A47.5 47.5 0 0 1 386.03 3824.71 Z" fill="#c0e166" stroke="#fff" stroke-width="1"/><path d="M433.5 3826.5 L386.03 3824.71 A47.5 47.5 0 0 1 433.50 3779.00 Z" fill="#e2f2bb" stroke="#fff" stroke-width="1"/></svg>
<svg class="a" style="left:399.5px;top:3917.5px" width="69.0" height="69.0" viewBox="399.5 3917.5 69.0 69.0"><path d="M434 3952 L434.00 3919.50 A32.5 32.5 0 1 1 431.76 3984.42 Z" fill="#2ea7e0" stroke="#fff" stroke-width="1"/><path d="M434 3952 L431.76 3984.42 A32.5 32.5 0 0 1 434.00 3919.50 Z" fill="#8ed4f4" stroke="#fff" stroke-width="1"/></svg>
<svg class="a" style="left:0;top:3400px" width="600" height="640" viewBox="0 3400 600 640" fill="none" stroke="#333" stroke-width="1.2">
<path d="M260 3571.500 H365"/>
<path d="M260 3826.5 H386"/>
<path d="M260 3949.500 H401"/>
<path d="M481 3825 H497"/>
<path d="M467 3949.500 H508"/>
<path d="M376 3494 L393.500 3514"/><path d="M505.300 3508 L489.500 3531"/><path d="M355.800 3627.700 L371.500 3610"/><path d="M487 3653 L470.600 3634"/>
<path d="M380.800 3784.400 L396 3794.500"/><path d="M386.800 3861 L396 3853.600"/>
<path d="M157 3931 L198.600 3948.700"/><path d="M157 3955.500 L178.700 3984.200"/><path d="M156 3981.500 L168.800 3991.300"/><path d="M157 4012.500 L178.700 3996"/>
</svg>
<div class="pl" style="left:190px;width:200px;text-align:right;top:3440px;font-weight:300">21.7%</div>
<svg class="t" style="left:351.0px;top:3482.7px;fill:#222"><text font-size="18.5">其他</text></svg>
<div class="pl" style="left:372px;width:200px;text-align:right;top:3440px;font-weight:300">30.6%</div>
<svg class="t" style="left:453.7px;top:3482.7px;fill:#222"><text font-size="18.5">恶臭/异味污染</text></svg>
<div class="pl" style="left:190px;width:200px;text-align:right;top:3640px;font-weight:300">21.7%</div>
<svg class="t" style="left:279.0px;top:3683.7px;fill:#222"><text font-size="18.5">工业废气污染</text></svg>
<div class="pl" style="left:372px;width:200px;text-align:right;top:3640px;font-weight:300">26.0%</div>
<svg class="t" style="left:512.5px;top:3683.7px;fill:#222"><text font-size="18.5">烟粉尘</text></svg>
<div class="pl" style="left:178.5px;width:200px;text-align:right;top:3762px;font-weight:300">24.4%</div>
<svg class="t" style="left:341.5px;top:3800.7px;fill:#222"><text font-size="18.5">其他</text></svg>
<div class="pl" style="left:178.5px;width:200px;text-align:right;top:3839px;font-weight:300">26.6%</div>
<svg class="t" style="left:304.5px;top:3881.7px;fill:#222"><text font-size="18.5">工业噪声</text></svg>
<div class="pl" style="left:372px;width:200px;text-align:right;top:3802px;font-weight:300">49.0%</div>
<svg class="t" style="left:498.0px;top:3844.7px;fill:#222"><text font-size="18.5">建设施工</text></svg>
<svg class="t" style="left:351.0px;top:3943.2px;fill:#222"><text font-size="18.5">其他</text></svg>
<div class="pl" style="left:372px;width:200px;text-align:right;top:3920px;font-weight:300">51.1%</div>
<svg class="t" style="left:498.0px;top:3964.7px;fill:#222"><text font-size="18.5">工业废水</text></svg>
<svg class="t" style="left:22.0px;top:4128.0px;fill:#333"><text font-size="24.8" font-weight="300">建筑业举报占三成</text></svg>
<div class="pill" style="left:80px;top:4171px;width:95px;height:29px"></div>
<svg class="t" style="left:91.5px;top:4191.7px;fill:#333"><text font-size="18">举报行业</text></svg>
<div class="pill" style="left:488px;top:4171px;width:60.500px;height:28.500px"></div>
<svg class="t" style="left:500.2px;top:4191.5px;fill:#333"><text font-size="18">占比</text></svg>
<div class="g" style="left:274.1px;top:4182.4px;width:108.8px;height:108.8px"></div>
<div class="g" style="left:285.9px;top:4246.7px;width:85.2px;height:85.2px"></div>
<div class="g" style="left:294.1px;top:4303.2px;width:68.7px;height:68.7px"></div>
<div class="g" style="left:302.6px;top:4363.8px;width:51.8px;height:51.8px"></div>
<div class="g" style="left:304.3px;top:4417.8px;width:48.4px;height:48.4px"></div>
<div class="ln" style="left:185px;width:295.500px;top:4236.3px"></div>
<div class="a" style="left:324px;top:4232.3px;width:9px;height:9px;border-radius:50%;background:#fff"></div>
<svg class="t" style="left:107.9px;top:4242.3px;fill:#222"><text font-size="17.7">建筑业</text></svg>
<div class="pl" style="left:500px;top:4226.8px">31.3%</div>
<div class="ln" style="left:185px;width:295.500px;top:4288.8px"></div>
<div class="a" style="left:324px;top:4284.8px;width:9px;height:9px;border-radius:50%;background:#fff"></div>
<svg class="t" style="left:37.1px;top:4294.8px;fill:#222"><text font-size="17.7">住宿餐饮娱乐业</text></svg>
<div class="pl" style="left:500px;top:4279.3px">19.2%</div>
<div class="ln" style="left:185px;width:295.500px;top:4337.1px"></div>
<div class="a" style="left:324px;top:4333.1px;width:9px;height:9px;border-radius:50%;background:#fff"></div>
<svg class="t" style="left:107.9px;top:4343.1px;fill:#222"><text font-size="17.7">化工业</text></svg>
<div class="pl" style="left:500px;top:4327.6px">12.5%</div>
<div class="ln" style="left:185px;width:295.500px;top:4389.2px"></div>
<div class="a" style="left:324px;top:4385.2px;width:9px;height:9px;border-radius:50%;background:#fff"></div>
<svg class="t" style="left:90.2px;top:4395.2px;fill:#222"><text font-size="17.7">禽畜养殖</text></svg>
<div class="pl" style="left:500px;top:4379.7px">7.1%</div>
<div class="ln" style="left:185px;width:295.500px;top:4441.5px"></div>
<div class="a" style="left:324px;top:4437.5px;width:9px;height:9px;border-radius:50%;background:#fff"></div>
<svg class="t" style="left:37.1px;top:4447.5px;fill:#222"><text font-size="17.7">非金属加工制造</text></svg>
<div class="pl" style="left:500px;top:4432px">6.2%</div>
<div class="a" style="left:0;top:4606px;width:600px;height:275px;background:#8cc11f"></div>
<div class="a" style="left:50px;top:4645px;width:178px;height:178px;background:#fff"></div>
<svg class="a" style="left:61.5px;top:4656px" width="157" height="157" viewBox="0 0 41 41" shape-rendering="crispEdges"><path d="M0 0h7v1h-7zM8 0h5v1h-5zM14 0h2v1h-2zM19 0h1v1h-1zM21 0h1v1h-1zM23 0h4v1h-4zM28 0h1v1h-1zM31 0h1v1h-1zM34 0h7v1h-7zM0 1h1v1h-1zM6 1h1v1h-1zM8 1h1v1h-1zM10 1h2v1h-2zM13 1h3v1h-3zM20 1h1v1h-1zM24 1h1v1h-1zM27 1h1v1h-1zM29 1h1v1h-1zM34 1h1v1h-1zM40 1h1v1h-1zM0 2h1v1h-1zM2 2h3v1h-3zM6 2h1v1h-1zM12 2h3v1h-3zM17 2h5v1h-5zM23 2h4v1h-4zM34 2h1v1h-1zM36 2h3v1h-3zM40 2h1v1h-1zM0 3h1v1h-1zM2 3h3v1h-3zM6 3h1v1h-1zM8 3h4v1h-4zM14 3h5v1h-5zM21 3h6v1h-6zM28 3h2v1h-2zM32 3h1v1h-1zM34 3h1v1h-1zM36 3h3v1h-3zM40 3h1v1h-1zM0 4h1v1h-1zM2 4h3v1h-3zM6 4h1v1h-1zM12 4h1v1h-1zM14 4h5v1h-5zM21 4h1v1h-1zM25 4h5v1h-5zM34 4h1v1h-1zM36 4h3v1h-3zM40 4h1v1h-1zM0 5h1v1h-1zM6 5h1v1h-1zM10 5h3v1h-3zM15 5h1v1h-1zM19 5h1v1h-1zM21 5h2v1h-2zM27 5h1v1h-1zM30 5h3v1h-3zM34 5h1v1h-1zM40 5h1v1h-1zM0 6h7v1h-7zM8 6h1v1h-1zM10 6h1v1h-1zM12 6h1v1h-1zM14 6h1v1h-1zM16 6h1v1h-1zM18 6h1v1h-1zM20 6h1v1h-1zM22 6h1v1h-1zM24 6h1v1h-1zM26 6h1v1h-1zM28 6h1v1h-1zM30 6h1v1h-1zM32 6h1v1h-1zM34 6h7v1h-7zM8 7h2v1h-2zM13 7h1v1h-1zM16 7h1v1h-1zM19 7h1v1h-1zM21 7h2v1h-2zM25 7h2v1h-2zM28 7h3v1h-3zM32 7h1v1h-1zM2 8h3v1h-3zM6 8h3v1h-3zM11 8h2v1h-2zM16 8h2v1h-2zM19 8h2v1h-2zM24 8h1v1h-1zM26 8h1v1h-1zM28 8h2v1h-2zM32 8h2v1h-2zM35 8h6v1h-6zM0 9h1v1h-1zM2 9h1v1h-1zM4 9h2v1h-2zM7 9h2v1h-2zM11 9h2v1h-2zM14 9h1v1h-1zM16 9h2v1h-2zM19 9h1v1h-1zM23 9h1v1h-1zM27 9h5v1h-5zM33 9h3v1h-3zM39 9h2v1h-2zM0 10h5v1h-5zM6 10h1v1h-1zM8 10h1v1h-1zM10 10h5v1h-5zM16 10h1v1h-1zM18 10h8v1h-8zM32 10h2v1h-2zM35 10h1v1h-1zM38 10h1v1h-1zM3 11h1v1h-1zM13 11h5v1h-5zM23 11h2v1h-2zM30 11h1v1h-1zM32 11h3v1h-3zM36 11h1v1h-1zM39 11h2v1h-2zM0 12h1v1h-1zM5 12h3v1h-3zM9 12h1v1h-1zM11 12h3v1h-3zM17 12h1v1h-1zM19 12h3v1h-3zM23 12h1v1h-1zM26 12h2v1h-2zM30 12h3v1h-3zM34 12h1v1h-1zM36 12h1v1h-1zM39 12h1v1h-1zM3 13h1v1h-1zM5 13h1v1h-1zM7 13h7v1h-7zM15 13h1v1h-1zM18 13h1v1h-1zM22 13h3v1h-3zM27 13h5v1h-5zM33 13h1v1h-1zM35 13h2v1h-2zM38 13h2v1h-2zM6 14h2v1h-2zM9 14h1v1h-1zM12 14h2v1h-2zM15 14h4v1h-4zM21 14h1v1h-1zM23 14h1v1h-1zM25 14h4v1h-4zM30 14h2v1h-2zM34 14h7v1h-7zM0 15h1v1h-1zM4 15h2v1h-2zM7 15h4v1h-4zM12 15h1v1h-1zM16 15h5v1h-5zM24 15h2v1h-2zM28 15h1v1h-1zM30 15h2v1h-2zM36 15h3v1h-3zM4 16h1v1h-1zM6 16h1v1h-1zM8 16h1v1h-1zM11 16h3v1h-3zM16 16h2v1h-2zM20 16h2v1h-2zM23 16h3v1h-3zM29 16h3v1h-3zM34 16h3v1h-3zM38 16h2v1h-2zM1 17h4v1h-4zM10 17h1v1h-1zM12 17h1v1h-1zM14 17h2v1h-2zM17 17h1v1h-1zM19 17h4v1h-4zM25 17h3v1h-3zM29 17h4v1h-4zM38 17h2v1h-2zM1 18h1v1h-1zM3 18h7v1h-7zM11 18h1v1h-1zM13 18h2v1h-2zM17 18h4v1h-4zM22 18h2v1h-2zM25 18h2v1h-2zM29 18h3v1h-3zM33 18h1v1h-1zM36 18h2v1h-2zM40 18h1v1h-1zM1 19h3v1h-3zM8 19h3v1h-3zM13 19h4v1h-4zM18 19h1v1h-1zM24 19h3v1h-3zM28 19h2v1h-2zM31 19h3v1h-3zM35 19h1v1h-1zM39 19h2v1h-2zM0 20h2v1h-2zM3 20h4v1h-4zM11 20h1v1h-1zM13 20h1v1h-1zM15 20h1v1h-1zM17 20h4v1h-4zM23 20h2v1h-2zM27 20h1v1h-1zM31 20h2v1h-2zM36 20h4v1h-4zM2 21h1v1h-1zM4 21h2v1h-2zM8 21h1v1h-1zM11 21h5v1h-5zM18 21h3v1h-3zM22 21h3v1h-3zM27 21h3v1h-3zM32 21h2v1h-2zM35 21h3v1h-3zM39 21h1v1h-1zM0 22h2v1h-2zM4 22h5v1h-5zM10 22h1v1h-1zM12 22h1v1h-1zM14 22h3v1h-3zM20 22h1v1h-1zM22 22h1v1h-1zM24 22h2v1h-2zM28 22h2v1h-2zM32 22h2v1h-2zM36 22h2v1h-2zM39 22h1v1h-1zM2 23h1v1h-1zM4 23h2v1h-2zM8 23h3v1h-3zM12 23h3v1h-3zM17 23h1v1h-1zM20 23h1v1h-1zM22 23h1v1h-1zM26 23h2v1h-2zM29 23h1v1h-1zM31 23h3v1h-3zM35 23h2v1h-2zM39 23h2v1h-2zM0 24h8v1h-8zM9 24h1v1h-1zM13 24h1v1h-1zM15 24h1v1h-1zM17 24h1v1h-1zM22 24h1v1h-1zM24 24h1v1h-1zM27 24h1v1h-1zM30 24h2v1h-2zM33 24h1v1h-1zM35 24h1v1h-1zM37 24h1v1h-1zM40 24h1v1h-1zM0 25h1v1h-1zM2 25h4v1h-4zM9 25h1v1h-1zM11 25h1v1h-1zM14 25h1v1h-1zM19 25h1v1h-1zM22 25h1v1h-1zM24 25h1v1h-1zM27 25h1v1h-1zM29 25h2v1h-2zM32 25h1v1h-1zM34 25h1v1h-1zM39 25h2v1h-2zM0 26h2v1h-2zM3 26h1v1h-1zM6 26h2v1h-2zM9 26h6v1h-6zM17 26h1v1h-1zM19 26h2v1h-2zM22 26h3v1h-3zM28 26h3v1h-3zM33 26h1v1h-1zM35 26h1v1h-1zM38 26h1v1h-1zM40 26h1v1h-1zM1 27h3v1h-3zM5 27h1v1h-1zM8 27h2v1h-2zM14 27h4v1h-4zM21 27h1v1h-1zM24 27h1v1h-1zM26 27h6v1h-6zM36 27h1v1h-1zM38 27h1v1h-1zM0 28h1v1h-1zM3 28h1v1h-1zM5 28h3v1h-3zM11 28h1v1h-1zM13 28h2v1h-2zM20 28h1v1h-1zM24 28h1v1h-1zM27 28h2v1h-2zM30 28h1v1h-1zM32 28h3v1h-3zM36 28h4v1h-4zM3 29h1v1h-1zM5 29h1v1h-1zM9 29h1v1h-1zM13 29h4v1h-4zM22 29h3v1h-3zM26 29h6v1h-6zM33 29h2v1h-2zM39 29h2v1h-2zM0 30h1v1h-1zM2 30h1v1h-1zM5 30h3v1h-3zM9 30h3v1h-3zM14 30h3v1h-3zM18 30h3v1h-3zM22 30h1v1h-1zM24 30h2v1h-2zM27 30h2v1h-2zM30 30h1v1h-1zM35 30h3v1h-3zM39 30h1v1h-1zM0 31h3v1h-3zM5 31h1v1h-1zM7 31h2v1h-2zM13 31h3v1h-3zM19 31h2v1h-2zM23 31h2v1h-2zM26 31h3v1h-3zM31 31h4v1h-4zM36 31h3v1h-3zM0 32h1v1h-1zM2 32h2v1h-2zM6 32h3v1h-3zM10 32h5v1h-5zM19 32h2v1h-2zM22 32h1v1h-1zM25 32h1v1h-1zM28 32h2v1h-2zM32 32h7v1h-7zM40 32h1v1h-1zM8 33h1v1h-1zM11 33h1v1h-1zM14 33h2v1h-2zM17 33h1v1h-1zM19 33h1v1h-1zM23 33h1v1h-1zM31 33h2v1h-2zM36 33h2v1h-2zM39 33h2v1h-2zM0 34h7v1h-7zM8 34h1v1h-1zM12 34h1v1h-1zM14 34h3v1h-3zM20 34h1v1h-1zM22 34h1v1h-1zM24 34h1v1h-1zM28 34h2v1h-2zM31 34h2v1h-2zM34 34h1v1h-1zM36 34h5v1h-5zM0 35h1v1h-1zM6 35h1v1h-1zM8 35h1v1h-1zM11 35h1v1h-1zM15 35h1v1h-1zM18 35h2v1h-2zM22 35h4v1h-4zM27 35h2v1h-2zM31 35h2v1h-2zM36 35h1v1h-1zM39 35h1v1h-1zM0 36h1v1h-1zM2 36h3v1h-3zM6 36h1v1h-1zM8 36h6v1h-6zM16 36h1v1h-1zM18 36h1v1h-1zM22 36h2v1h-2zM25 36h1v1h-1zM28 36h1v1h-1zM32 36h6v1h-6zM40 36h1v1h-1zM0 37h1v1h-1zM2 37h3v1h-3zM6 37h1v1h-1zM10 37h1v1h-1zM12 37h1v1h-1zM14 37h1v1h-1zM19 37h3v1h-3zM25 37h1v1h-1zM29 37h4v1h-4zM0 38h1v1h-1zM2 38h3v1h-3zM6 38h1v1h-1zM8 38h2v1h-2zM13 38h1v1h-1zM17 38h5v1h-5zM24 38h1v1h-1zM26 38h2v1h-2zM31 38h3v1h-3zM37 38h3v1h-3zM0 39h1v1h-1zM6 39h1v1h-1zM9 39h2v1h-2zM12 39h1v1h-1zM14 39h2v1h-2zM20 39h1v1h-1zM23 39h1v1h-1zM25 39h1v1h-1zM28 39h2v1h-2zM32 39h2v1h-2zM35 39h1v1h-1zM37 39h3v1h-3zM0 40h7v1h-7zM8 40h1v1h-1zM13 40h2v1h-2zM18 40h1v1h-1zM23 40h2v1h-2zM26 40h1v1h-1zM31 40h4v1h-4zM38 40h1v1h-1z" fill="#1a1a1a"/></svg>
<svg class="a" style="left:119px;top:4713px" width="40" height="41" viewBox="119 4713 40 41"><rect x="120" y="4714" width="38" height="39" rx="5" fill="#fff"/>
<defs><clipPath id="d2"><rect x="120" y="4714" width="38" height="21.500"/></clipPath></defs>
<circle cx="138.500" cy="4733" r="14" fill="#c0202c" clip-path="url(#d2)"/>
<path d="M127 4735.500 l3 -2 l3 -2 l3 -2 l2.500 -1.500 l2.500 1.500 l3 2 l3 2 l3 2" fill="none" stroke="#e8ddd8" stroke-width="1.400"/>
<path d="M138.500 4720.500 C141 4723.500 142 4726 141 4728.500 C140.300 4730.500 137 4730.500 136.200 4728.500 C135.500 4726.500 137 4725 137.300 4723 C138 4724 138.300 4724.800 138.300 4725.800 C138.900 4724 139 4722.500 138.500 4720.500 Z" fill="#fcc82c"/>
<rect x="125" y="4737.500" width="27" height="8" fill="#c0202c"/>
<path d="M128 4741.500 h5 M135.500 4741.500 h5 M143 4741.500 h6 M130.500 4739 v5 M138 4739 v5 M146 4739 v5" stroke="#fff" stroke-width="1.200" fill="none"/>
</svg>
<svg class="t" style="left:92.8px;top:4849.7px;fill:#eef7d8"><text font-size="18.5">新京报微信</text></svg>
<svg class="t" style="left:274.0px;top:4677.2px;fill:#eef7d8"><text font-size="19.1">数据来源：环保部通报《环境保护</text></svg>
<svg class="t" style="left:274.0px;top:4710.2px;fill:#eef7d8"><text font-size="19.1">法》配套办法执行情况、2017年全</text></svg>
<svg class="t" style="left:274.0px;top:4777.2px;fill:#eef7d8"><text font-size="19.1">新京报新媒体编辑：汤子帅</text></svg>
<svg class="t" style="left:274.0px;top:4807.2px;fill:#eef7d8"><text font-size="19.1">新京报新媒体制图：许骁</text></svg>
<svg class="t" style="left:274.0px;top:4739.7px;fill:#eef7d8"><text font-size="19.1">国</text></svg>
<svg class="t" style="left:294.1px;top:4739.7px;fill:#eef7d8"><text font-size="19.1"><tspan x="12">“</tspan><tspan x="19.1">12369”</tspan></text></svg>
<svg class="t" style="left:387.3px;top:4739.7px;fill:#eef7d8"><text font-size="19.1">环保举报办理情况</text></svg>
</div></body></html>
